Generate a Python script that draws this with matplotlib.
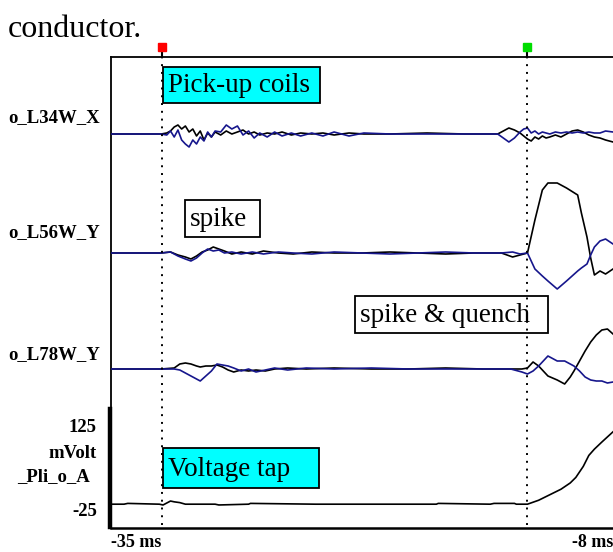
import matplotlib
matplotlib.use("Agg")
import numpy as np
import matplotlib.pyplot as plt
from matplotlib.patches import Rectangle
import matplotlib.transforms as mtransforms

# time axis of the recorder screen (ms)
t_start, t_end = -35.0, -8.0
cursors = [-32.26, -12.63]
cursor_colors = ['#ff0000', '#00dd00']

# pick-up coil o_L34W_X (black / blue traces, arbitrary units)
t34 = [-35.0, -32.3, -32.0, -31.8, -31.6, -31.4, -31.2, -31.0, -30.8, -30.6,
       -30.4, -30.2, -30.0, -29.8, -29.6, -29.4, -29.1, -28.8, -28.5, -28.2,
       -27.9, -27.6, -27.3, -27.0, -26.6, -26.2, -25.8, -25.3, -24.8, -24.2,
       -23.6, -23.0, -22.2, -21.4, -20.0, -18.0, -16.0, -14.2, -13.9, -13.6,
       -13.3, -13.0, -12.8, -12.6, -12.4, -12.2, -12.0, -11.8, -11.6, -11.4,
       -11.1, -10.8, -10.5, -10.2, -9.9, -9.6, -9.3, -9.0, -8.7, -8.4, -8.0]
k34 = [0, 0, 1, 3, 7, 9, 5, 8, 2, 5, -2, 3, -6, 1, -3, 2, -1, 3, 0, 2,
       4, 0, 2, -1, 1, 0, 2, -1, 1, 0, 1, -1, 1, 0, 0, 1, 0, 0, 3, 6,
       4, 1, -2, -5, -7, -3, -5, -2, -4, -3, -1, -3, 0, 3, 4, 2, -1, -3, -4, -6, -8]
b34 = [0, 0, -1, 3, -3, 4, -6, -10, -13, -6, -10, -3, -7, 2, -3, 3, 2, 9, 5, 8,
       -1, 3, -4, 1, -3, 2, -2, 1, -2, 1, -2, 2, -2, 1, 0, 0, 0, 0, -4, -8,
       -4, 2, 5, 6, 1, 3, 0, 2, 1, 0, 2, 1, 2, 1, 2, 1, 2, 1, 1, 3, 2]

# pick-up coil o_L56W_Y
t56 = [-35.0, -32.3, -31.8, -31.4, -31.0, -30.7, -30.4, -30.1, -29.8, -29.5,
       -29.2, -28.9, -28.5, -28.0, -27.4, -26.8, -26.0, -25.2, -24.2, -23.0,
       -21.5, -20.0, -18.5, -17.0, -15.5, -14.0, -13.4, -13.0, -12.6, -12.2,
       -11.8, -11.5, -11.0, -10.5, -9.9, -9.7, -9.4, -9.2, -9.0, -8.7, -8.4, -8.0]
k56 = [0, 0, 1, -2, -4, -6, -3, 1, 3, 6, 4, 2, -1, 1, -1, 2, 0, -1, 1, 0,
       0, 1, 0, -1, 0, 0, -4, -2, 0, 33, 63, 70, 70, 65, 58, 40, 16, -5, -22, -18,
       -21, -16]
b56 = [0, 0, 1, -3, -6, -8, -5, 0, 4, 2, 3, 0, 1, -1, 1, -1, 1, 0, -1, 1,
       0, -1, 0, 1, 0, 0, 1, -1, 0, -16, -23, -28, -36, -28, -18, -15, -11, -2, 6, 12,
       14, 9]

# pick-up coil o_L78W_Y
t78 = [-35.0, -32.3, -31.6, -31.3, -31.0, -30.7, -30.4, -30.2, -29.9, -29.6,
       -29.3, -29.0, -28.7, -28.4, -28.0, -27.6, -27.2, -26.7, -26.2, -25.5,
       -24.5, -23.0, -21.0, -19.0, -17.0, -15.0, -13.5, -12.9, -12.6, -12.3,
       -12.0, -11.5, -11.0, -10.6, -10.3, -10.1, -9.8, -9.5, -9.2, -8.9,
       -8.6, -8.3, -8.0]
k78 = [0, 0, 1, 5, 6, 5, 3, 2, 3, 3, 4, 2, -1, -3, -1, -2, -1, -2, 0, 1,
       0, 1, 0, 0, 1, 0, 0, 0, 1, 7, 3, -7, -11, -15, -8, -2, 8, 18, 27, 34,
       39, 40, 35]
b78 = [0, 0, 0, -1, -4, -7, -10, -12, -7, -2, 5, 4, 3, 1, -2, 0, -3, -1, 1, -1,
       1, 0, 1, 0, 0, 0, 0, -3, -5, -2, 3, 13, 8, 8, 5, 3, -2, -8, -11, -12,
       -12, -14, -13]

# voltage tap _Pli_o_A (mV)
tv = [-35.0, -34.3, -34.1, -32.4, -32.2, -31.8, -31.6, -31.3, -31.0, -29.4,
      -29.2, -27.6, -27.5, -24.0, -20.0, -17.5, -17.4, -14.6, -14.4, -13.3,
      -13.2, -12.6, -12.0, -11.4, -10.8, -10.3, -10.0, -9.6, -9.3, -9.0,
      -8.6, -8.0]
vv = [4, 4, 5, 4, 3, 8, 7, 6, 4, 4, 3, 4, 5, 4, 4, 4, 5, 4, 5, 5,
      4, 4, 9, 16, 23, 31, 38, 52, 66, 74, 83, 96]

channels = ['o_L34W_X', 'o_L56W_Y', 'o_L78W_Y']

W, H = 613, 552
fig = plt.figure(figsize=(W / 100, H / 100), dpi=100)
serif = ['Liberation Serif', 'DejaVu Serif']
BLUE = '#16168c'


def fx(px):
    return px / W


def fy(py):
    return 1 - py / H


# main axes for the pick-up coils (1 unit = 1 screen pixel)
ax = fig.add_axes([fx(111), fy(528), fx(502), 471 / H])
ax.set_xlim(t_start, t_end)
ax.set_ylim(0, 471)
ax.patch.set_alpha(0)
ax.spines['right'].set_visible(False)
ax.spines['left'].set_linewidth(1.3)
ax.spines['top'].set_linewidth(1.3)
ax.spines['bottom'].set_linewidth(1.8)
ax.set_yticks([])
ax.set_xticks([t_start, t_end], ['-35 ms', '-8 ms'])
ax.tick_params(axis='x', length=0, pad=4)
for lab, ha in zip(ax.get_xticklabels(), ['left', 'right']):
    lab.set_ha(ha)
    lab.set_fontfamily(serif)
    lab.set_fontweight('bold')
    lab.set_fontsize(13)

offsets = [394, 275, 159]
for (t, k, b), off in zip([(t34, k34, b34), (t56, k56, b56), (t78, k78, b78)], offsets):
    ax.plot(t, np.array(k) + off, color='black', lw=1.2, zorder=3)
    ax.plot(t, np.array(b) + off, color=BLUE, lw=1.2, zorder=4)

# cursors
trans = mtransforms.blended_transform_factory(ax.transData, ax.transAxes)
for c, col in zip(cursors, cursor_colors):
    ax.axvline(c, ymin=0.006, ymax=1, color='black', ls=(0, (1, 3)), lw=1.4, zorder=6)
    ax.plot([c, c], [1.0, 1.012], color='black', lw=1.5, transform=trans, clip_on=False)
    ax.plot([c], [1.021], marker='s', ms=5.5, color=col, mec=col, transform=trans,
            clip_on=False, zorder=7)

# voltage tap axes with its thick scale bar
axv = fig.add_axes([fx(111), fy(527), fx(502), 118 / H])
axv.set_xlim(t_start, t_end)
axv.set_ylim(-25, 125)
axv.patch.set_alpha(0)
for s in ['right', 'top', 'bottom']:
    axv.spines[s].set_visible(False)
axv.spines['left'].set_linewidth(3.2)
axv.spines['left'].set_position(('outward', 1))
axv.set_xticks([])
axv.set_yticks([])
axv.plot(tv, vv, color='black', lw=1.2)

# annotation boxes (x0, y0, x1, y1 in screen pixels)
boxes = [('Pick-up coils', (163, 67, 320, 103), '#00ffff'),
         ('spike', (185, 200, 260, 237), 'white'),
         ('spike & quench', (355, 296, 548, 333), 'white'),
         ('Voltage tap', (163, 448, 319, 488), '#00ffff')]
for label, (x0, y0, x1, y1), fc in boxes:
    ax.add_patch(Rectangle((fx(x0), fy(y1)), fx(x1 - x0), (y1 - y0) / H,
                           transform=fig.transFigure, facecolor=fc,
                           edgecolor='black', lw=1.3, clip_on=False, zorder=2))
    ax.text(fx(x0 + 5), fy((y0 + y1) / 2 + 1), label, transform=fig.transFigure,
            fontsize=19.5, family=serif, va='center', ha='left', zorder=3)

# left-hand labels
lab_kw = dict(fontsize=13.5, family=serif, fontweight='bold', va='center')
for name, py in zip(channels, [118, 233, 355]):
    fig.text(fx(8), fy(py), name, ha='left', **lab_kw)
fig.text(fx(97), fy(427), '125', ha='right', **lab_kw)
fig.text(fx(97), fy(453), 'mVolt', ha='right', **lab_kw)
fig.text(fx(90), fy(477), '_Pli_o_A', ha='right', **lab_kw)
fig.text(fx(97), fy(512), '-25', ha='right', **lab_kw)

fig.text(fx(8), fy(37), 'conductor.', fontsize=23, family=serif, va='baseline')

fig.savefig('out.png', dpi=100)
